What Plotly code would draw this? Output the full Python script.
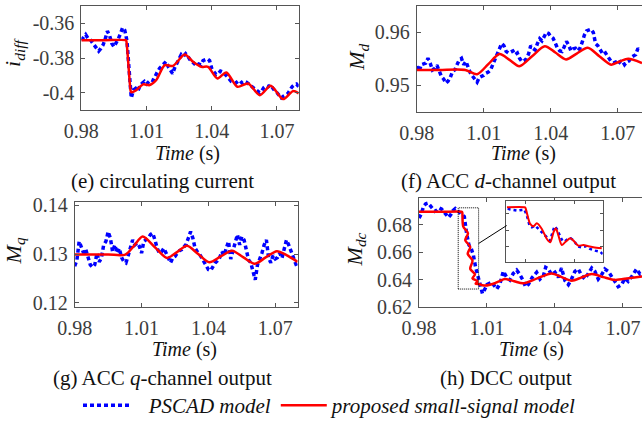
import plotly.graph_objects as go

# ---------------- data ----------------
# common sampling grid of the PSCAD traces for panels (e), (f), (g)
pscad_t = [round(0.98 + 0.001 * k, 3) for k in range(101)]

# (e) circulating current
pscad_e = [-0.3697, -0.3680, -0.3665, -0.3685, -0.3690, -0.3710, -0.3725, -0.3740, -0.3760, -0.3745,
           -0.3725, -0.3690, -0.3645, -0.3670, -0.3715, -0.3735, -0.3715, -0.3690, -0.3660, -0.3625,
           -0.3640, -0.3700, -0.3870, -0.4030, -0.3985, -0.3975, -0.3990, -0.3960, -0.3945, -0.3935,
           -0.3950, -0.3940, -0.3925, -0.3930, -0.3900, -0.3880, -0.3860, -0.3845, -0.3830, -0.3820,
           -0.3850, -0.3870, -0.3890, -0.3855, -0.3830, -0.3800, -0.3780, -0.3790, -0.3775, -0.3790,
           -0.3810, -0.3820, -0.3830, -0.3845, -0.3835, -0.3840, -0.3815, -0.3810, -0.3805, -0.3815,
           -0.3860, -0.3880, -0.3895, -0.3890, -0.3875, -0.3880, -0.3890, -0.3905, -0.3920, -0.3935,
           -0.3940, -0.3945, -0.3935, -0.3930, -0.3945, -0.3935, -0.3940, -0.3950, -0.3965, -0.3975,
           -0.3985, -0.3995, -0.4000, -0.3990, -0.3970, -0.3960, -0.3965, -0.3955, -0.3975, -0.3990,
           -0.4000, -0.4015, -0.4030, -0.4020, -0.4010, -0.4005, -0.3985, -0.3965, -0.3955, -0.3950,
           -0.3965]
model_t_e = [0.980, 0.990, 1.0005, 1.0007, 1.0027, 1.0030, 1.0053, 1.0084, 1.0115, 1.0145, 1.0184,
             1.0222, 1.0276, 1.0314, 1.0352, 1.0383, 1.0426, 1.0467, 1.0518, 1.0567, 1.0621, 1.0671,
             1.0728, 1.0774, 1.0800]
model_e = [-0.3697, -0.3697, -0.3697, -0.3700, -0.3990, -0.3998, -0.3985, -0.3952, -0.3956, -0.3927,
           -0.3841, -0.3845, -0.3780, -0.3822, -0.3851, -0.3851, -0.3918, -0.3883, -0.3966, -0.3947,
           -0.4014, -0.3960, -0.4037, -0.3991, -0.4004]

# (f) ACC d-channel output
pscad_f = [0.9536, 0.9526, 0.9539, 0.9540, 0.9542, 0.9551, 0.9542, 0.9529, 0.9532, 0.9538,
           0.9526, 0.9517, 0.9512, 0.9504, 0.9508, 0.9515, 0.9526, 0.9529, 0.9539, 0.9548,
           0.9551, 0.9539, 0.9545, 0.9532, 0.9523, 0.9517, 0.9512, 0.9506, 0.9515, 0.9517,
           0.9519, 0.9523, 0.9525, 0.9529, 0.9539, 0.9548, 0.9559, 0.9570, 0.9579, 0.9575,
           0.9564, 0.9561, 0.9564, 0.9565, 0.9558, 0.9561, 0.9551, 0.9545, 0.9546, 0.9550,
           0.9559, 0.9575, 0.9570, 0.9567, 0.9579, 0.9588, 0.9584, 0.9592, 0.9600, 0.9598,
           0.9592, 0.9589, 0.9578, 0.9570, 0.9565, 0.9564, 0.9573, 0.9583, 0.9576, 0.9565,
           0.9569, 0.9570, 0.9565, 0.9570, 0.9581, 0.9595, 0.9603, 0.9604, 0.9606, 0.9600,
           0.9579, 0.9575, 0.9567, 0.9561, 0.9564, 0.9558, 0.9553, 0.9545, 0.9542, 0.9544,
           0.9540, 0.9545, 0.9546, 0.9539, 0.9544, 0.9546, 0.9553, 0.9556, 0.9558, 0.9570,
           0.9565]
model_t_f = [0.980, 0.990, 1.0017, 1.0070, 1.0120, 1.0170, 1.0215, 1.0259, 1.0316, 1.0373, 1.0420,
             1.0468, 1.0516, 1.0565, 1.0617, 1.0670, 1.0708, 1.0746, 1.0808]
model_f = [0.9529, 0.9529, 0.9529, 0.9521, 0.9540, 0.9559, 0.9548, 0.9536, 0.9555, 0.9574, 0.9562,
           0.9549, 0.9560, 0.9571, 0.9555, 0.9539, 0.9545, 0.9550, 0.9542]

# (g) ACC q-channel output
pscad_g = [0.1275, 0.1288, 0.1326, 0.1312, 0.1302, 0.1309, 0.1293, 0.1278, 0.1273, 0.1278,
           0.1302, 0.1284, 0.1292, 0.1319, 0.1326, 0.1346, 0.1333, 0.1305, 0.1319, 0.1302,
           0.1312, 0.1293, 0.1285, 0.1282, 0.1297, 0.1316, 0.1329, 0.1319, 0.1323, 0.1316,
           0.1302, 0.1326, 0.1329, 0.1333, 0.1340, 0.1343, 0.1329, 0.1312, 0.1302, 0.1305,
           0.1312, 0.1302, 0.1288, 0.1282, 0.1292, 0.1295, 0.1302, 0.1307, 0.1309, 0.1314,
           0.1320, 0.1333, 0.1346, 0.1333, 0.1312, 0.1305, 0.1300, 0.1292, 0.1284, 0.1278,
           0.1268, 0.1266, 0.1275, 0.1282, 0.1286, 0.1292, 0.1305, 0.1297, 0.1312, 0.1326,
           0.1290, 0.1305, 0.1326, 0.1340, 0.1319, 0.1336, 0.1329, 0.1305, 0.1288, 0.1282,
           0.1264, 0.1247, 0.1278, 0.1288, 0.1302, 0.1319, 0.1329, 0.1292, 0.1282, 0.1297,
           0.1290, 0.1293, 0.1302, 0.1292, 0.1312, 0.1329, 0.1319, 0.1305, 0.1295, 0.1282,
           0.1271]
model_t_g = [0.980, 0.995, 1.0027, 1.0066, 1.0105, 1.0160, 1.0214, 1.0259, 1.0304, 1.0354, 1.0404,
             1.0455, 1.0506, 1.0557, 1.0607, 1.0657, 1.0707, 1.0750, 1.0800]
model_g = [0.1299, 0.1299, 0.1299, 0.1317, 0.1336, 0.1314, 0.1292, 0.1304, 0.1317, 0.1300, 0.1283,
           0.1295, 0.1307, 0.1293, 0.1280, 0.1293, 0.1306, 0.1298, 0.1284]

# (h) DCC output
pscad_t_h = [0.980, 0.981, 0.982, 0.983, 0.984, 0.985, 0.986, 0.987, 0.988, 0.989,
             0.990, 0.991, 0.992, 0.993, 0.994, 0.995, 0.996, 0.997, 0.998, 0.999,
             1.000, 1.001, 1.002, 1.003, 1.004, 1.005, 1.006, 1.007, 1.008, 1.009,
             1.010, 1.0121, 1.0143, 1.0157, 1.0172, 1.0187, 1.0201, 1.0216, 1.0231, 1.0245,
             1.0260, 1.0270, 1.0282, 1.0300, 1.0319, 1.0334, 1.0349, 1.0359, 1.0371, 1.0385,
             1.0400, 1.0415, 1.0429, 1.0444, 1.0459, 1.0473, 1.0488, 1.0503, 1.0518, 1.0532,
             1.0547, 1.0562, 1.0576, 1.0591, 1.0606, 1.0620, 1.0635, 1.0650, 1.0664, 1.0679,
             1.0694, 1.0709, 1.0723, 1.0738, 1.0760, 1.0775, 1.0785]
pscad_h = [0.6850, 0.6880, 0.6935, 0.6955, 0.6960, 0.6940, 0.6915, 0.6900, 0.6910, 0.6925,
           0.6915, 0.6895, 0.6875, 0.6855, 0.6875, 0.6905, 0.6920, 0.6905, 0.6895, 0.6880,
           0.6860, 0.6740, 0.6655, 0.6630, 0.6580, 0.6490, 0.6425, 0.6345, 0.6300, 0.6330,
           0.6365, 0.6382, 0.6333, 0.6370, 0.6462, 0.6418, 0.6399, 0.6447, 0.6471, 0.6438,
           0.6394, 0.6350, 0.6365, 0.6418, 0.6455, 0.6406, 0.6430, 0.6491, 0.6479, 0.6438,
           0.6455, 0.6418, 0.6486, 0.6394, 0.6365, 0.6406, 0.6462, 0.6479, 0.6430, 0.6406,
           0.6447, 0.6486, 0.6462, 0.6406, 0.6438, 0.6479, 0.6462, 0.6418, 0.6389, 0.6350,
           0.6365, 0.6413, 0.6389, 0.6423, 0.6479, 0.6442, 0.6455]
model_t_h = [0.980, 0.990, 0.9989, 0.9991, 0.9995, 1.0016, 1.0004, 1.0026, 1.0015, 1.0036, 1.0026,
             1.0047, 1.0036, 1.0058, 1.0050, 1.0068, 1.0081, 1.0091, 1.0113, 1.0135, 1.0157, 1.0179,
             1.0220, 1.0260, 1.0322, 1.0385, 1.0430, 1.0474, 1.0518, 1.0562, 1.0613, 1.0665, 1.0725,
             1.0785]
model_h = [0.6896, 0.6896, 0.6896, 0.6890, 0.6790, 0.6740, 0.6690, 0.6640, 0.6590, 0.6540, 0.6480,
           0.6440, 0.6410, 0.6390, 0.6372, 0.6368, 0.6360, 0.6358, 0.6364, 0.6375, 0.6392, 0.6406,
           0.6390, 0.6375, 0.6411, 0.6447, 0.6420, 0.6394, 0.6418, 0.6442, 0.6420, 0.6399, 0.6412,
           0.6425]

# (h) inset: zoom of the transient
zoom_t = [0.9973, 1.0063]
zoom_v = [0.6333, 0.6925]
inset_pscad_t = [0.99742, 0.99783, 0.99829, 0.99876, 0.99898, 0.99922, 0.99947, 0.99969, 1.00000,
                 1.00031, 1.00062, 1.00109, 1.00140, 1.00161, 1.00180, 1.00202, 1.00223, 1.00248,
                 1.00273, 1.00304, 1.00332, 1.00363, 1.00394, 1.00434, 1.00475, 1.00512, 1.00559,
                 1.00605, 1.00630]
inset_pscad = [0.6879, 0.6869, 0.6863, 0.6869, 0.6872, 0.6814, 0.6717, 0.6701, 0.6717,
               0.6684, 0.6652, 0.6594, 0.6571, 0.6652, 0.6710, 0.6684, 0.6636, 0.6581,
               0.6561, 0.6587, 0.6594, 0.6571, 0.6516, 0.6506, 0.6516, 0.6490, 0.6474,
               0.6464, 0.6441]
inset_model_t = [0.99736, 0.99900, 0.99907, 0.99953, 0.99984, 1.00015, 1.00062, 1.00109, 1.00140,
                 1.00171, 1.00192, 1.00217, 1.00248, 1.00279, 1.00326, 1.00357, 1.00403, 1.00450,
                 1.00496, 1.00543, 1.00621]
inset_model = [0.6895, 0.6895, 0.6892, 0.6733, 0.6710, 0.6739, 0.6684, 0.6587, 0.6555,
               0.6652, 0.6691, 0.6619, 0.6529, 0.6555, 0.6594, 0.6571, 0.6522, 0.6529,
               0.6516, 0.6506, 0.6496]

x_ticks = [0.98, 1.01, 1.04, 1.07]
x_ticktext = ["0.98", "1.01", "1.04", "1.07"]
y_ticks_e = [-0.40, -0.38, -0.36]
y_ticktext_e = ["-0.4", "-0.38", "-0.36"]
y_ticks_f = [0.95, 0.96]
y_ticks_g = [0.12, 0.13, 0.14]
y_ticks_h = [0.62, 0.64, 0.66, 0.68]

# ---------------- figure ----------------
W, H = 642, 426
FONT = "Liberation Serif"
BLUE = "#0000ff"
RED = "#ff0000"
FRAME = "#555555"
TICKC = "#3c3c3c"


def px_x(p):
    return p / W


def px_y(p):
    return 1 - p / H


fig = go.Figure()

panels = [
    ("x", "y", pscad_t, pscad_e, model_t_e, model_e),
    ("x2", "y2", pscad_t, pscad_f, model_t_f, model_f),
    ("x3", "y3", pscad_t, pscad_g, model_t_g, model_g),
    ("x4", "y4", pscad_t_h, pscad_h, model_t_h, model_h),
]
for i, (xa, ya, pt, pv, mt, mv) in enumerate(panels):
    fig.add_trace(go.Scatter(
        x=pt, y=pv, xaxis=xa, yaxis=ya, mode="lines",
        line=dict(color=BLUE, width=3.5, dash="4px,3px"),
        name="\u2002\u2009<i>PSCAD model</i>", showlegend=(i == 0), legendrank=1))
    fig.add_trace(go.Scatter(
        x=mt, y=mv, xaxis=xa, yaxis=ya, mode="lines",
        line=dict(color=RED, width=2.5, shape="spline", smoothing=0.8),
        name="<i>proposed small-signal model</i>", showlegend=(i == 0), legendrank=2))

# inset traces
fig.add_trace(go.Scatter(x=inset_pscad_t, y=inset_pscad, xaxis="x5", yaxis="y5", mode="lines",
                         line=dict(color=BLUE, width=2.5, dash="3px,3px"), showlegend=False))
fig.add_trace(go.Scatter(x=inset_model_t, y=inset_model, xaxis="x5", yaxis="y5", mode="lines",
                         line=dict(color=RED, width=2, shape="spline", smoothing=0.8),
                         showlegend=False))

tickfont = dict(family=FONT, size=20, color=TICKC)


def xax(domain, rng, anchor, mirror=True):
    return dict(domain=domain, range=rng, anchor=anchor, showline=True, linecolor=FRAME,
                linewidth=1, mirror="allticks" if mirror else False, ticks="inside",
                ticklen=4, tickcolor=FRAME, tickvals=x_ticks, ticktext=x_ticktext,
                tickfont=tickfont, ticklabelstandoff=3, showgrid=False, zeroline=False,
                automargin=False)


def yax(domain, rng, anchor, vals, texts, mirror=True):
    return dict(domain=domain, range=rng, anchor=anchor, showline=True, linecolor=FRAME,
                linewidth=1, mirror="allticks" if mirror else False, ticks="inside",
                ticklen=4, tickcolor=FRAME, tickvals=vals, ticktext=texts,
                tickfont=tickfont, ticklabelstandoff=2, showgrid=False, zeroline=False,
                automargin=False)


layout = dict(
    template="none",
    width=W, height=H, margin=dict(l=0, r=0, t=0, b=0, pad=0),
    paper_bgcolor="white", plot_bgcolor="white",
    font=dict(family=FONT, size=20, color="#111111"),
    xaxis=xax([px_x(81.3), px_x(298.7)], [0.98, 1.08], "y"),
    yaxis=yax([px_y(110.3), px_y(6)], [-0.41, -0.35], "x", y_ticks_e, y_ticktext_e),
    xaxis2=xax([px_x(416.8), 1.0], [0.98, 1.0808], "y2"),
    yaxis2=yax([px_y(112), px_y(6)], [0.945, 0.965], "x2", y_ticks_f,
               ["0.95", "0.96"], mirror=False),
    xaxis3=xax([px_x(74.7), px_x(297.6)], [0.98, 1.08], "y3"),
    yaxis3=yax([px_y(307.3), px_y(202)], [0.1192, 0.1408], "x3", y_ticks_g,
               ["0.12", "0.13", "0.14"]),
    xaxis4=xax([px_x(419), 1.0], [0.98, 1.0784], "y4"),
    yaxis4=yax([px_y(308), px_y(198)], [0.62, 0.70], "x4", y_ticks_h,
               ["0.62", "0.64", "0.66", "0.68"], mirror=False),
    xaxis5=dict(domain=[px_x(506.3), px_x(602.7)], range=zoom_t, anchor="y5",
                showline=True, linecolor=FRAME, linewidth=1, mirror="allticks",
                ticks="inside", ticklen=3, tickcolor=FRAME, tickvals=[0.9991, 1.0037],
                showticklabels=False, showgrid=False, zeroline=False, automargin=False),
    yaxis5=dict(domain=[px_y(263), px_y(201)], range=[0.636, 0.696], anchor="x5",
                showline=True, linecolor=FRAME, linewidth=1, mirror="allticks",
                ticks="inside", ticklen=3, tickcolor=FRAME, tickvals=[0.651, 0.667, 0.683],
                showticklabels=False, showgrid=False, zeroline=False, automargin=False),
    legend=dict(orientation="h", x=px_x(330), xanchor="center", y=px_y(406), yanchor="middle",
                font=dict(family=FONT, size=21, color="#111111"), bgcolor="rgba(0,0,0,0)",
                itemwidth=46, tracegroupgap=0),
    showlegend=True,
)
fig.update_layout(**layout)

# zoom rectangle and connector in panel (h)
fig.add_shape(type="rect", xref="x4", yref="y4", x0=zoom_t[0], x1=zoom_t[1],
              y0=zoom_v[0], y1=zoom_v[1], line=dict(color="black", width=1, dash="1px,1px"))
fig.add_shape(type="line", xref="x4", yref="y4", x0=zoom_t[1], y0=0.6665,
              x1=1.0187, y1=0.6796, line=dict(color="black", width=1))

# axis titles and captions
ann = []
for xc, yc in [(188, 154), (523, 154), (185, 350), (531, 350)]:
    ann.append(dict(text="<i>Time</i> (s)", x=px_x(xc), y=px_y(yc), xref="paper", yref="paper",
                    showarrow=False, xanchor="center", yanchor="middle",
                    font=dict(family=FONT, size=20, color="#111111")))
for txt, xc, yc in [("<i>i</i><sub><i>diff</i></sub>", 14, 53),
                    ("<i>M</i><sub><i>d</i></sub>", 358, 57),
                    ("<i>M</i><sub><i>q</i></sub>", 15, 252),
                    ("<i>M</i><sub><i>dc</i></sub>", 356, 250)]:
    ann.append(dict(text=txt, x=px_x(xc), y=px_y(yc), xref="paper", yref="paper",
                    showarrow=False, xanchor="center", yanchor="middle", textangle=-90,
                    font=dict(family=FONT, size=22, color="#111111")))
for txt, xc, yc in [("(e) circulating current", 163, 181),
                    ("(f) ACC <i>d</i>-channel output", 508, 181),
                    ("(g) ACC <i>q</i>-channel output", 163, 379),
                    ("(h) DCC output", 506, 379)]:
    ann.append(dict(text=txt, x=px_x(xc), y=px_y(yc), xref="paper", yref="paper",
                    showarrow=False, xanchor="center", yanchor="middle",
                    font=dict(family=FONT, size=21, color="#111111")))
fig.update_layout(annotations=ann)

fig.write_html("out.html")
